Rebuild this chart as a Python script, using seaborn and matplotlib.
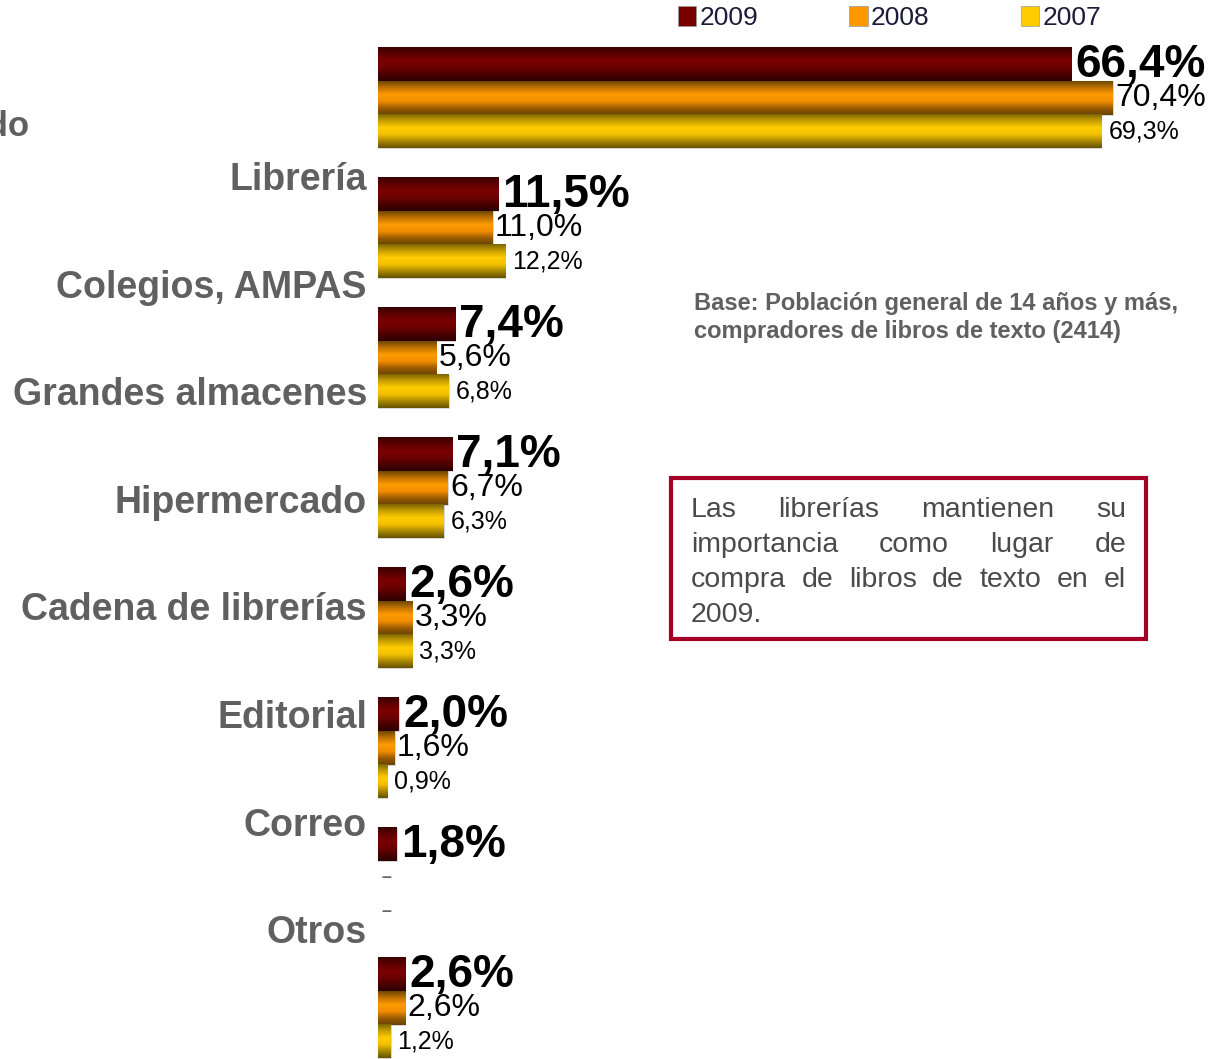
import numpy as np
import pandas as pd
import matplotlib
matplotlib.use("Agg")
import matplotlib.pyplot as plt
import seaborn as sns
from matplotlib.colors import LinearSegmentedColormap
from matplotlib.patches import Patch, Rectangle

# ---- data -------------------------------------------------------------
canales = ["Librería", "Colegios, AMPAS", "Grandes almacenes", "Hipermercado",
           "Cadena de librerías", "Editorial", "Correo", "Otros"]
anios = ["2009", "2008", "2007"]
v2009 = [66.4, 11.5, 7.4, 7.1, 2.6, 2.0, 1.8, 2.6]
v2008 = [70.4, 11.0, 5.6, 6.7, 3.3, 1.6, None, 2.6]
v2007 = [69.3, 12.2, 6.8, 6.3, 3.3, 0.9, None, 1.2]
etiqueta_cortada = "Supermercado"
nota_base = ["Base: Población general de 14 años y más,",
             "compradores de libros de texto (2414)"]
nota_caja = ["Las librerías mantienen su",
             "importancia como lugar de",
             "compra de libros de texto en el",
             "2009."]

rows = []
for anio, vals in zip(anios, [v2009, v2008, v2007]):
    for c, v in zip(canales, vals):
        rows.append({"canal": c, "anio": anio, "valor": v})
df = pd.DataFrame(rows)
df_bars = df.dropna(subset=["valor"])

# ---- style --------------------------------------------------------------
W, H = 1212, 1059
sns.set_style("white")
plt.rcParams["font.family"] = ["Liberation Sans", "DejaVu Sans"]

gradientes = {
    "2009": ["#3a0000", "#5e0000", "#7a0000", "#6e0000", "#4a0000", "#2e0000"],
    "2008": ["#6c4800", "#c27400", "#ff9b00", "#f08c00", "#9a5c00", "#664200"],
    "2007": ["#7d6400", "#c8a000", "#ffcc00", "#f2c000", "#a88800", "#665200"],
}
medios = {"2009": "#780000", "2008": "#ff9900", "2007": "#ffcc00"}
cmaps = {k: LinearSegmentedColormap.from_list(k, v) for k, v in gradientes.items()}

fig = plt.figure(figsize=(W / 100, H / 100), dpi=100)
ax = fig.add_axes([378 / W, 0, (W - 378) / W, 1])

sns.barplot(data=df_bars, y="canal", x="valor", hue="anio", order=canales,
            hue_order=anios, orient="h", width=0.77, dodge=True,
            palette=medios, errorbar=None, legend=False, ax=ax,
            edgecolor="none", saturation=1)

# gradient fill for every bar
grad = np.linspace(0, 1, 128).reshape(-1, 1)
for anio, cont in zip(anios, ax.containers):
    for p in cont.patches:
        x0, y0, w, h = p.get_x(), p.get_y(), p.get_width(), p.get_height()
        ax.imshow(grad, cmap=cmaps[anio], aspect="auto", origin="upper",
                  extent=(x0, x0 + w, y0 + h, y0), interpolation="bilinear",
                  zorder=p.get_zorder())
        p.set_facecolor("none")
        p.set_edgecolor("#b8b8b8")
        p.set_linewidth(0.4)

ax.set_xlim(0, (W - 378) / 10.44)
ax.set_ylim((H - 98) / 130, -98 / 130)
ax.set_axis_off()

# value labels
fmt = lambda v: f"{v:.1f}".replace(".", ",") + "%"
estilos = {
    "2009": dict(fontsize=33, fontweight="bold", padding=3),
    "2008": dict(fontsize=23, fontweight="normal", padding=1.5),
    "2007": dict(fontsize=18, fontweight="normal", padding=5),
}
offsets = {}
for anio, cont in zip(anios, ax.containers):
    st = estilos[anio]
    ax.bar_label(cont, fmt=fmt, padding=st["padding"], fontsize=st["fontsize"],
                 fontweight=st["fontweight"], color="black", zorder=5)
    p0 = cont.patches[0]
    offsets[anio] = p0.get_y() + p0.get_height() / 2

# missing values shown as dashes
for anio, vals in zip(anios, [v2009, v2008, v2007]):
    for i, v in enumerate(vals):
        if v is None:
            ax.annotate("–", (0, i + offsets[anio]), xytext=(2.5, 0),
                        textcoords="offset points", ha="left", va="center",
                        fontsize=13, fontweight="bold", color="#666666")

# category labels
gris = "#606060"
for k, c in enumerate(canales):
    fig.text(367 / W, 1 - (190 + k * 107.6) / H, c, ha="right", va="baseline",
             fontsize=27, fontweight="bold", color=gris)
fig.text(29 / W, 1 - 136 / H, etiqueta_cortada, ha="right", va="baseline",
         fontsize=25, fontweight="bold", color=gris)

# legend
handles = [Patch(facecolor=medios[a], edgecolor="#999999", linewidth=0.5) for a in anios]
leg = fig.legend(handles, anios, loc="upper left",
                 bbox_to_anchor=(678 / W, 1 - 6 / H), ncol=3, frameon=False,
                 fontsize=19, handlelength=0.7, handleheight=0.8,
                 handletextpad=0.12, columnspacing=3.45, borderpad=0,
                 borderaxespad=0)
for t in leg.get_texts():
    t.set_color("#1c1c3a")

# base note
for k, line in enumerate(nota_base):
    fig.text(694 / W, 1 - (310 + k * 28) / H, line, ha="left", va="baseline",
             fontsize=17, fontweight="bold", color=gris)

# framed comment with justified text
fig.patches.append(Rectangle((671 / W, 1 - 639 / H), (1146 - 671) / W, (639 - 478) / H,
                             transform=fig.transFigure, fill=False,
                             edgecolor="#a50026", linewidth=3))
renderer = fig.canvas.get_renderer()
xl, xr = 691, 1126
for k, line in enumerate(nota_caja):
    y = 1 - (517 + k * 35) / H
    words = line.split()
    kw = dict(ha="left", va="baseline", fontsize=20.5, color="#4a4a4a")
    if k == len(nota_caja) - 1 or len(words) == 1:
        fig.text(xl / W, y, line, **kw)
        continue
    texts = [fig.text(0, y, w, **kw) for w in words]
    widths = [t.get_window_extent(renderer).width for t in texts]
    gap = (xr - xl - sum(widths)) / (len(words) - 1)
    x = xl
    for t, wd in zip(texts, widths):
        t.set_x(x / W)
        x += wd + gap

fig.savefig("out.png", dpi=100)
